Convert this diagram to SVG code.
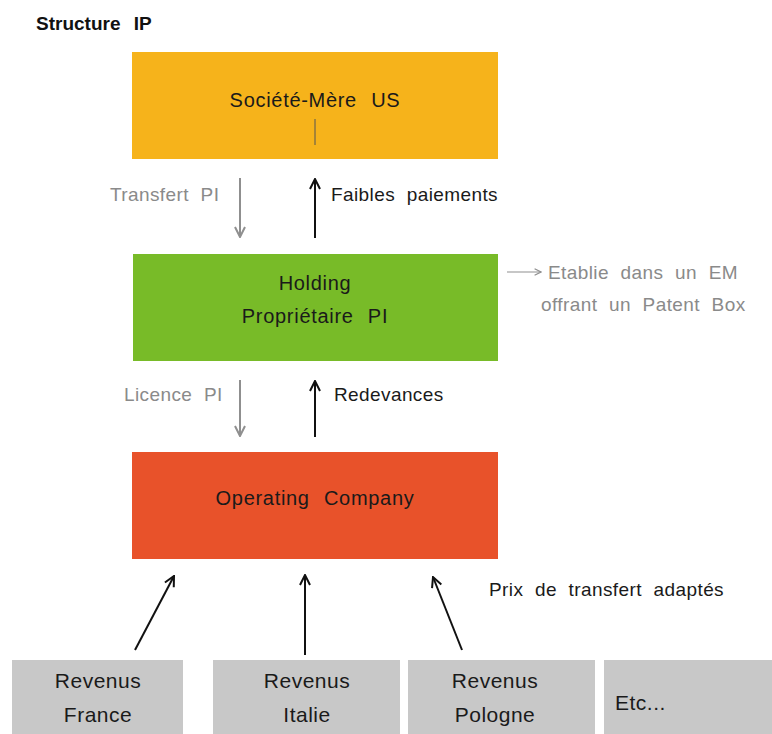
<svg xmlns="http://www.w3.org/2000/svg" width="772" height="734" viewBox="0 0 772 734">
<style>
text{font-family:"Liberation Sans",Arial,sans-serif}
.t{font-size:20px;fill:#1a1a1a;letter-spacing:0.7px;word-spacing:8px}
.r{font-size:21px;fill:#1a1a1a;letter-spacing:0.5px}
.c{text-anchor:middle}
.g{fill:#8a8a8a}
.k{fill:#1a1a1a}
.lbl{font-size:19px;letter-spacing:0.4px;word-spacing:6px}
.gl{stroke:#8f8f8f;stroke-width:2;fill:none}
.bl{stroke:#111;stroke-width:2;fill:none}
</style>
<defs>
<marker id="ag" viewBox="0 0 12 12" refX="11" refY="6" markerWidth="12" markerHeight="12" markerUnits="userSpaceOnUse" orient="auto"><path d="M1,1 L11,6 L1,11" fill="none" stroke="#8f8f8f" stroke-width="2"/></marker>
<marker id="ab" viewBox="0 0 12 12" refX="11" refY="6" markerWidth="12" markerHeight="12" markerUnits="userSpaceOnUse" orient="auto"><path d="M1,1 L11,6 L1,11" fill="none" stroke="#111" stroke-width="2"/></marker>
<marker id="as" viewBox="0 0 10 10" refX="9" refY="5" markerWidth="8" markerHeight="8" markerUnits="userSpaceOnUse" orient="auto"><path d="M1,1 L9,5 L1,9" fill="none" stroke="#8f8f8f" stroke-width="1.5"/></marker>
</defs>
<rect width="772" height="734" fill="#fff"/>
<text x="36" y="30" style="font-size:19px;font-weight:bold;fill:#111;word-spacing:8px">Structure IP</text>

<g id="mere">
<rect x="132" y="52" width="366" height="107" fill="#F6B31B"/>
<text x="315" y="107" class="t c">Société-Mère US</text>
<line x1="315" y1="119" x2="315" y2="145" stroke="#555" stroke-width="1"/>
</g>
<g id="holding">
<rect x="133" y="254" width="365" height="107" fill="#78BB28"/>
<text x="315" y="290" class="t c">Holding</text>
<text x="315" y="323" class="t c">Propriétaire PI</text>
</g>
<g id="opco">
<rect x="132" y="452" width="366" height="107" fill="#E8522A"/>
<text x="315" y="505" class="t c">Operating Company</text>
</g>
<g id="france">
<rect x="12" y="660" width="171" height="74" fill="#C8C8C8"/>
<text x="98" y="688" class="r c">Revenus</text>
<text x="98" y="722" class="r c">France</text>
</g>
<g id="italie">
<rect x="213" y="660" width="187" height="74" fill="#C8C8C8"/>
<text x="307" y="688" class="r c">Revenus</text>
<text x="307" y="722" class="r c">Italie</text>
</g>
<g id="pologne">
<rect x="408" y="660" width="187" height="74" fill="#C8C8C8"/>
<text x="495" y="688" class="r c">Revenus</text>
<text x="495" y="722" class="r c">Pologne</text>
</g>
<g id="etc">
<rect x="604" y="660" width="168" height="74" fill="#C8C8C8"/>
<text x="615" y="710" class="r">Etc...</text>
</g>

<g id="connectors">
<line x1="240" y1="178" x2="240" y2="237" class="gl" marker-end="url(#ag)"/>
<line x1="315" y1="238" x2="315" y2="179" class="bl" marker-end="url(#ab)"/>
<line x1="240" y1="380" x2="240" y2="436" class="gl" marker-end="url(#ag)"/>
<line x1="315" y1="437" x2="315" y2="381" class="bl" marker-end="url(#ab)"/>
<line x1="507" y1="272" x2="541" y2="272" stroke="#8f8f8f" stroke-width="1.2" marker-end="url(#as)"/>
<line x1="135" y1="650" x2="174" y2="576" class="bl" marker-end="url(#ab)"/>
<line x1="305" y1="655" x2="305" y2="575" class="bl" marker-end="url(#ab)"/>
<line x1="462" y1="650" x2="433" y2="577" class="bl" marker-end="url(#ab)"/>
</g>

<g id="labels">
<text x="110" y="201" class="lbl g">Transfert PI</text>
<text x="331" y="201" class="lbl k">Faibles paiements</text>
<text x="124" y="401" class="lbl g">Licence PI</text>
<text x="334" y="401" class="lbl k">Redevances</text>
<text x="548" y="279" class="lbl g">Etablie dans un EM</text>
<text x="541" y="311" class="lbl g">offrant un Patent Box</text>
<text x="489" y="596" class="lbl k">Prix de transfert adaptés</text>
</g>
</svg>
